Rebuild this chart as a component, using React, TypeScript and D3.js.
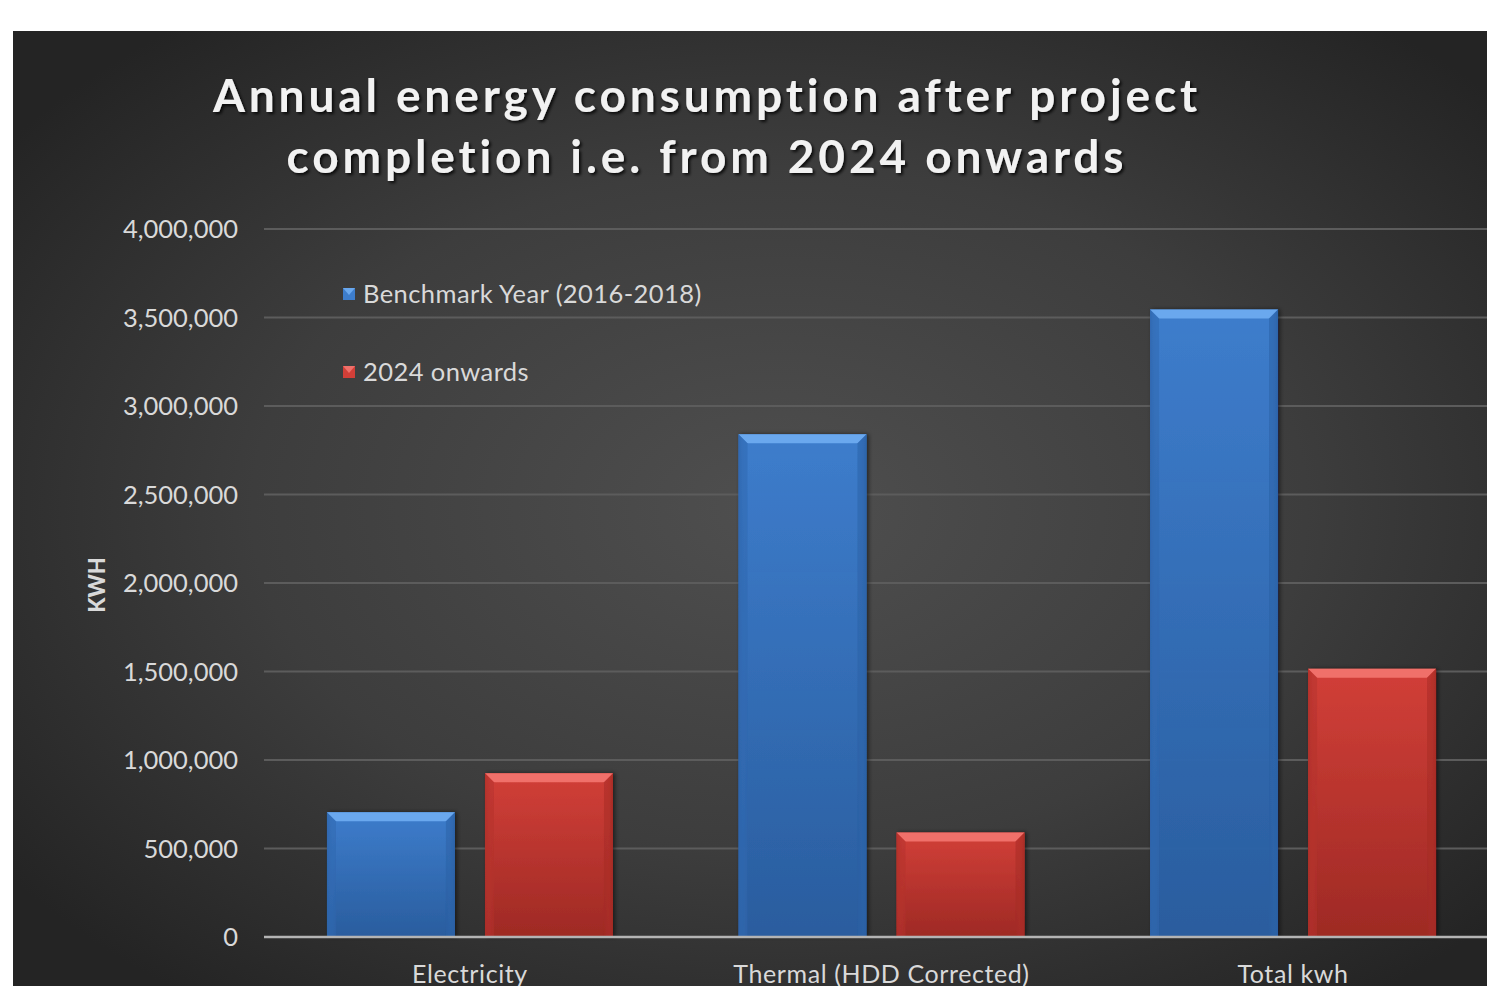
import React from "react";
import * as d3 from "d3";

const categories = ["Electricity", "Thermal (HDD Corrected)", "Total kwh"];
const seriesNames = ["Benchmark Year (2016-2018)", "2024 onwards"];
const benchmark = [705000, 2840000, 3545000];
const onwards = [925000, 590000, 1515000];
const yTicks = [0, 500000, 1000000, 1500000, 2000000, 2500000, 3000000, 3500000, 4000000];
const titleLines = ["Annual energy consumption after project", "completion i.e. from 2024 onwards"];
const yAxisTitle = "KWH";

const W = 1487;
const H = 986;
const plot = { left: 264, right: 1499, top: 229, bottom: 937 };

const palette = [
  { main: "#3d7dcc", light: "#6aa8ee", dark: "#2a5fa3", edge: "#2f68b0" },
  { main: "#d23f38", light: "#f0706a", dark: "#a32a24", edge: "#b3322c" },
];

export default function App() {
  const x0 = d3.scaleBand<string>().domain(categories).range([plot.left, plot.right]).paddingInner(0.305).paddingOuter(0.153);
  const x1 = d3.scaleBand<string>().domain(seriesNames).range([0, x0.bandwidth()]).paddingInner(0.19);
  const y = d3.scaleLinear().domain([0, 4000000]).range([plot.bottom, plot.top]);
  const fmt = d3.format(",");
  const data = [benchmark, onwards];
  const font = "Lato, 'Open Sans', sans-serif";

  return (
    <svg width={W} height={H} style={{ position: "absolute", left: 0, top: 0, display: "block" }}>
      <defs>
        <radialGradient id="bg" cx="52%" cy="50%" r="65%">
          <stop offset="0%" stopColor="#4f4f4f" />
          <stop offset="55%" stopColor="#3d3d3d" />
          <stop offset="100%" stopColor="#242424" />
        </radialGradient>
        {palette.map((p, i) => (
          <linearGradient key={i} id={`bar${i}`} x1="0" y1="0" x2="0" y2="1">
            <stop offset="0%" stopColor={p.main} />
            <stop offset="100%" stopColor={p.dark} stopOpacity={0.95} />
          </linearGradient>
        ))}
        {palette.map((p, i) => (
          <linearGradient key={"h" + i} id={`barh${i}`} x1="0" y1="0" x2="1" y2="0">
            <stop offset="0%" stopColor={p.dark} stopOpacity={0.6} />
            <stop offset="6%" stopColor={p.main} stopOpacity={0} />
            <stop offset="94%" stopColor={p.main} stopOpacity={0} />
            <stop offset="100%" stopColor={p.dark} stopOpacity={0.7} />
          </linearGradient>
        ))}
        <filter id="tshadow" x="-5%" y="-20%" width="110%" height="140%">
          <feDropShadow dx="2" dy="2" stdDeviation="1.5" floodColor="#000" floodOpacity="0.8" />
        </filter>
        <filter id="bshadow" x="-10%" y="-5%" width="120%" height="110%">
          <feDropShadow dx="2" dy="0" stdDeviation="2" floodColor="#000" floodOpacity="0.5" />
        </filter>
      </defs>
      <rect x={0} y={0} width={W} height={H} fill="#ffffff" />
      <rect x={13} y={31} width={W - 13} height={H - 31} fill="url(#bg)" />

      {titleLines.map((t, i) => (
        <text key={t} x={707} y={112 + i * 61} textAnchor="middle" fill="#f2f2f2" fontFamily={font}
          fontWeight={700} fontSize={46} letterSpacing={3.9} filter="url(#tshadow)">{t}</text>
      ))}

      {yTicks.map((t) => (
        <g key={t}>
          {t > 0 && <line x1={plot.left} x2={W} y1={y(t)} y2={y(t)} stroke="#5c5c5c" strokeWidth={2} />}
          <text x={238} y={y(t) + 9} textAnchor="end" fill="#d9d9d9" fontFamily={font} fontSize={25.5}>{fmt(t)}</text>
        </g>
      ))}

      <text transform={`translate(105,585) rotate(-90)`} textAnchor="middle" fill="#d9d9d9" fontFamily={font}
        fontWeight={900} fontSize={22}>{yAxisTitle}</text>

      {categories.map((c, ci) => (
        <g key={c}>
          {seriesNames.map((s, si) => {
            const v = data[si][ci];
            const bx = (x0(c) ?? 0) + (x1(s) ?? 0);
            const bw = x1.bandwidth();
            const by = y(v);
            const bh = y(0) - by;
            const p = palette[si];
            const bev = 9;
            return (
              <g key={s} filter="url(#bshadow)">
                <rect x={bx} y={by} width={bw} height={bh} fill={`url(#bar${si})`} />
                <rect x={bx} y={by} width={bw} height={bh} fill={`url(#barh${si})`} />
                <path d={`M${bx},${by} L${bx + bw},${by} L${bx + bw - bev},${by + bev} L${bx + bev},${by + bev} Z`} fill={p.light} />
                <path d={`M${bx},${by} L${bx + bev},${by + bev} L${bx + bev},${by + bh} L${bx},${by + bh} Z`} fill={p.edge} opacity={0.5} />
                <path d={`M${bx + bw},${by} L${bx + bw - bev},${by + bev} L${bx + bw - bev},${by + bh} L${bx + bw},${by + bh} Z`} fill={p.dark} opacity={0.5} />
              </g>
            );
          })}
          <text x={(x0(c) ?? 0) + x0.bandwidth() / 2} y={983} textAnchor="middle" fill="#d9d9d9" fontFamily={font} fontSize={25} letterSpacing={0.6}>{c}</text>
        </g>
      ))}

      <line x1={plot.left} x2={W} y1={y(0)} y2={y(0)} stroke="#b4b4b4" strokeWidth={2.5} />

      {seriesNames.map((s, i) => (
        <g key={s} transform={`translate(343,${294 + i * 78})`}>
          <rect x={0} y={-6} width={12} height={12} fill={palette[i].main} />
          <path d="M0,-6 L12,-6 L6,1 Z" fill={palette[i].light} />
          <text x={20} y={9} fill="#d9d9d9" fontFamily={font} fontSize={25.5} letterSpacing={0.42}>{s}</text>
        </g>
      ))}
    </svg>
  );
}
